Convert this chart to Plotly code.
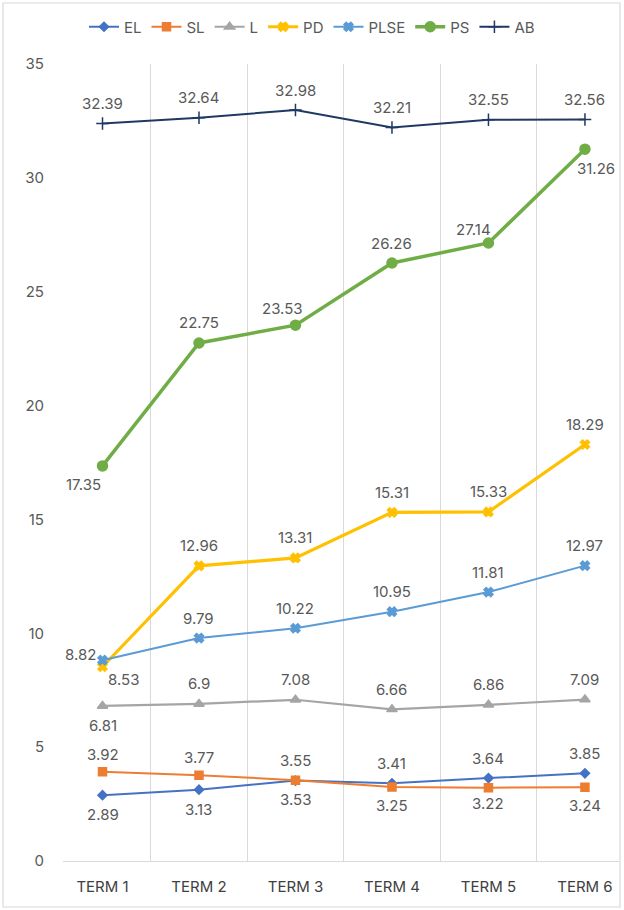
import plotly.graph_objects as go

# terms on the x axis
terms = ['TERM 1', 'TERM 2', 'TERM 3', 'TERM 4', 'TERM 5', 'TERM 6']

EL = [2.89, 3.13, 3.53, 3.41, 3.64, 3.85]
SL = [3.92, 3.77, 3.55, 3.25, 3.22, 3.24]
L = [6.81, 6.9, 7.08, 6.66, 6.86, 7.09]
PD = [8.53, 12.96, 13.31, 15.31, 15.33, 18.29]
PLSE = [8.82, 9.79, 10.22, 10.95, 11.81, 12.97]
PS = [17.35, 22.75, 23.53, 26.26, 27.14, 31.26]
AB = [32.39, 32.64, 32.98, 32.21, 32.55, 32.56]

names = ['EL', 'SL', 'L', 'PD', 'PLSE', 'PS', 'AB']
series = [EL, SL, L, PD, PLSE, PS, AB]

# style per series: colour, line width, marker symbol, marker size
styles = {
    'EL': ('#4472C4', 2, 'diamond', 7),
    'SL': ('#ED7D31', 2, 'square', 8),
    'L': ('#A5A5A5', 2.2, 'triangle-up', 9),
    'PD': ('#FFC000', 3.2, 'x', 8),
    'PLSE': ('#5B9BD5', 2, 'x', 8),
    'PS': ('#70AD47', 3.5, 'circle', 10),
    'AB': ('#1F3864', 2, 'cross-thin-open', 9),
}

# label offsets in px (dx, dy) for each point
up = [(0, 20)] * 6
offsets = {
    'EL': [(0, -19), (0, -20), (0, -19), (0, 20), (0, 20), (0, 20)],
    'SL': [(0, 17), (0, 18), (0, 20), (0, -19), (0, -16), (0, -18)],
    'L': [(0, -20), (0, 20), (0, 20), (0, 20), (0, 20), (0, 20)],
    'PD': [(21, -13), (0, 20), (0, 20), (0, 20), (0, 20), (0, 20)],
    'PLSE': [(-22, 6), (0, 20), (0, 20), (0, 20), (0, 20), (0, 20)],
    'PS': [(-19, -19), (0, 20), (-13, 17), (0, 20), (-15, 13), (11, -19)],
    'AB': up,
}

fig = go.Figure()
annotations = []
for name, vals in zip(names, series):
    color, width, symbol, size = styles[name]
    fig.add_trace(go.Scatter(
        x=terms, y=vals, name=name, mode='lines+markers',
        line=dict(color=color, width=width),
        marker=dict(symbol=symbol, size=size, color=color,
                    line=dict(color=color, width=1.5))
    ))
    for t, v, (dx, dy) in zip(terms, vals, offsets[name]):
        annotations.append(dict(
            x=t, y=v, text=str(v), showarrow=False,
            xshift=dx, yshift=dy, xanchor='center', yanchor='middle',
            font=dict(family='Inter', size=15, color='#595959')
        ))

# light border around the whole chart
pw, ph = 556, 797
border = [dict(
    type='rect', xref='paper', yref='paper',
    x0=(3 - 63) / pw, x1=(620 - 63) / pw,
    y0=(861 - 907) / ph, y1=(861 - 3) / ph,
    line=dict(color='#D9D9D9', width=1.2), fillcolor='rgba(0,0,0,0)'
)]

fig.update_layout(
    width=624, height=910,
    margin=dict(l=63, r=5, t=64, b=49),
    paper_bgcolor='white', plot_bgcolor='white',
    font=dict(family='Inter', size=15, color='#595959'),
    annotations=annotations,
    shapes=border,
    showlegend=True,
    legend=dict(orientation='h', xref='container', yref='container',
                x=0.5, xanchor='center', y=1 - 27 / 910, yanchor='middle',
                font=dict(size=15, color='#595959'), itemwidth=30,
                bgcolor='rgba(0,0,0,0)'),
    xaxis=dict(type='category', tickson='boundaries', showgrid=True,
               gridcolor='#D9D9D9', gridwidth=1, ticks='',
               showline=True, linecolor='#D9D9D9', linewidth=1.2,
               zeroline=False, ticklabelstandoff=12,
               tickfont=dict(size=15, color='#404040')),
    yaxis=dict(range=[0, 35], dtick=5, showgrid=False, zeroline=False,
               showline=False, ticks='', ticklabelstandoff=18,
               tickfont=dict(size=15, color='#595959')),
)

# page margin off so the figure sits at the top-left corner of the window
fig.write_html("out.html", config={'displayModeBar': False},
               post_script="document.body.style.margin='0';")
